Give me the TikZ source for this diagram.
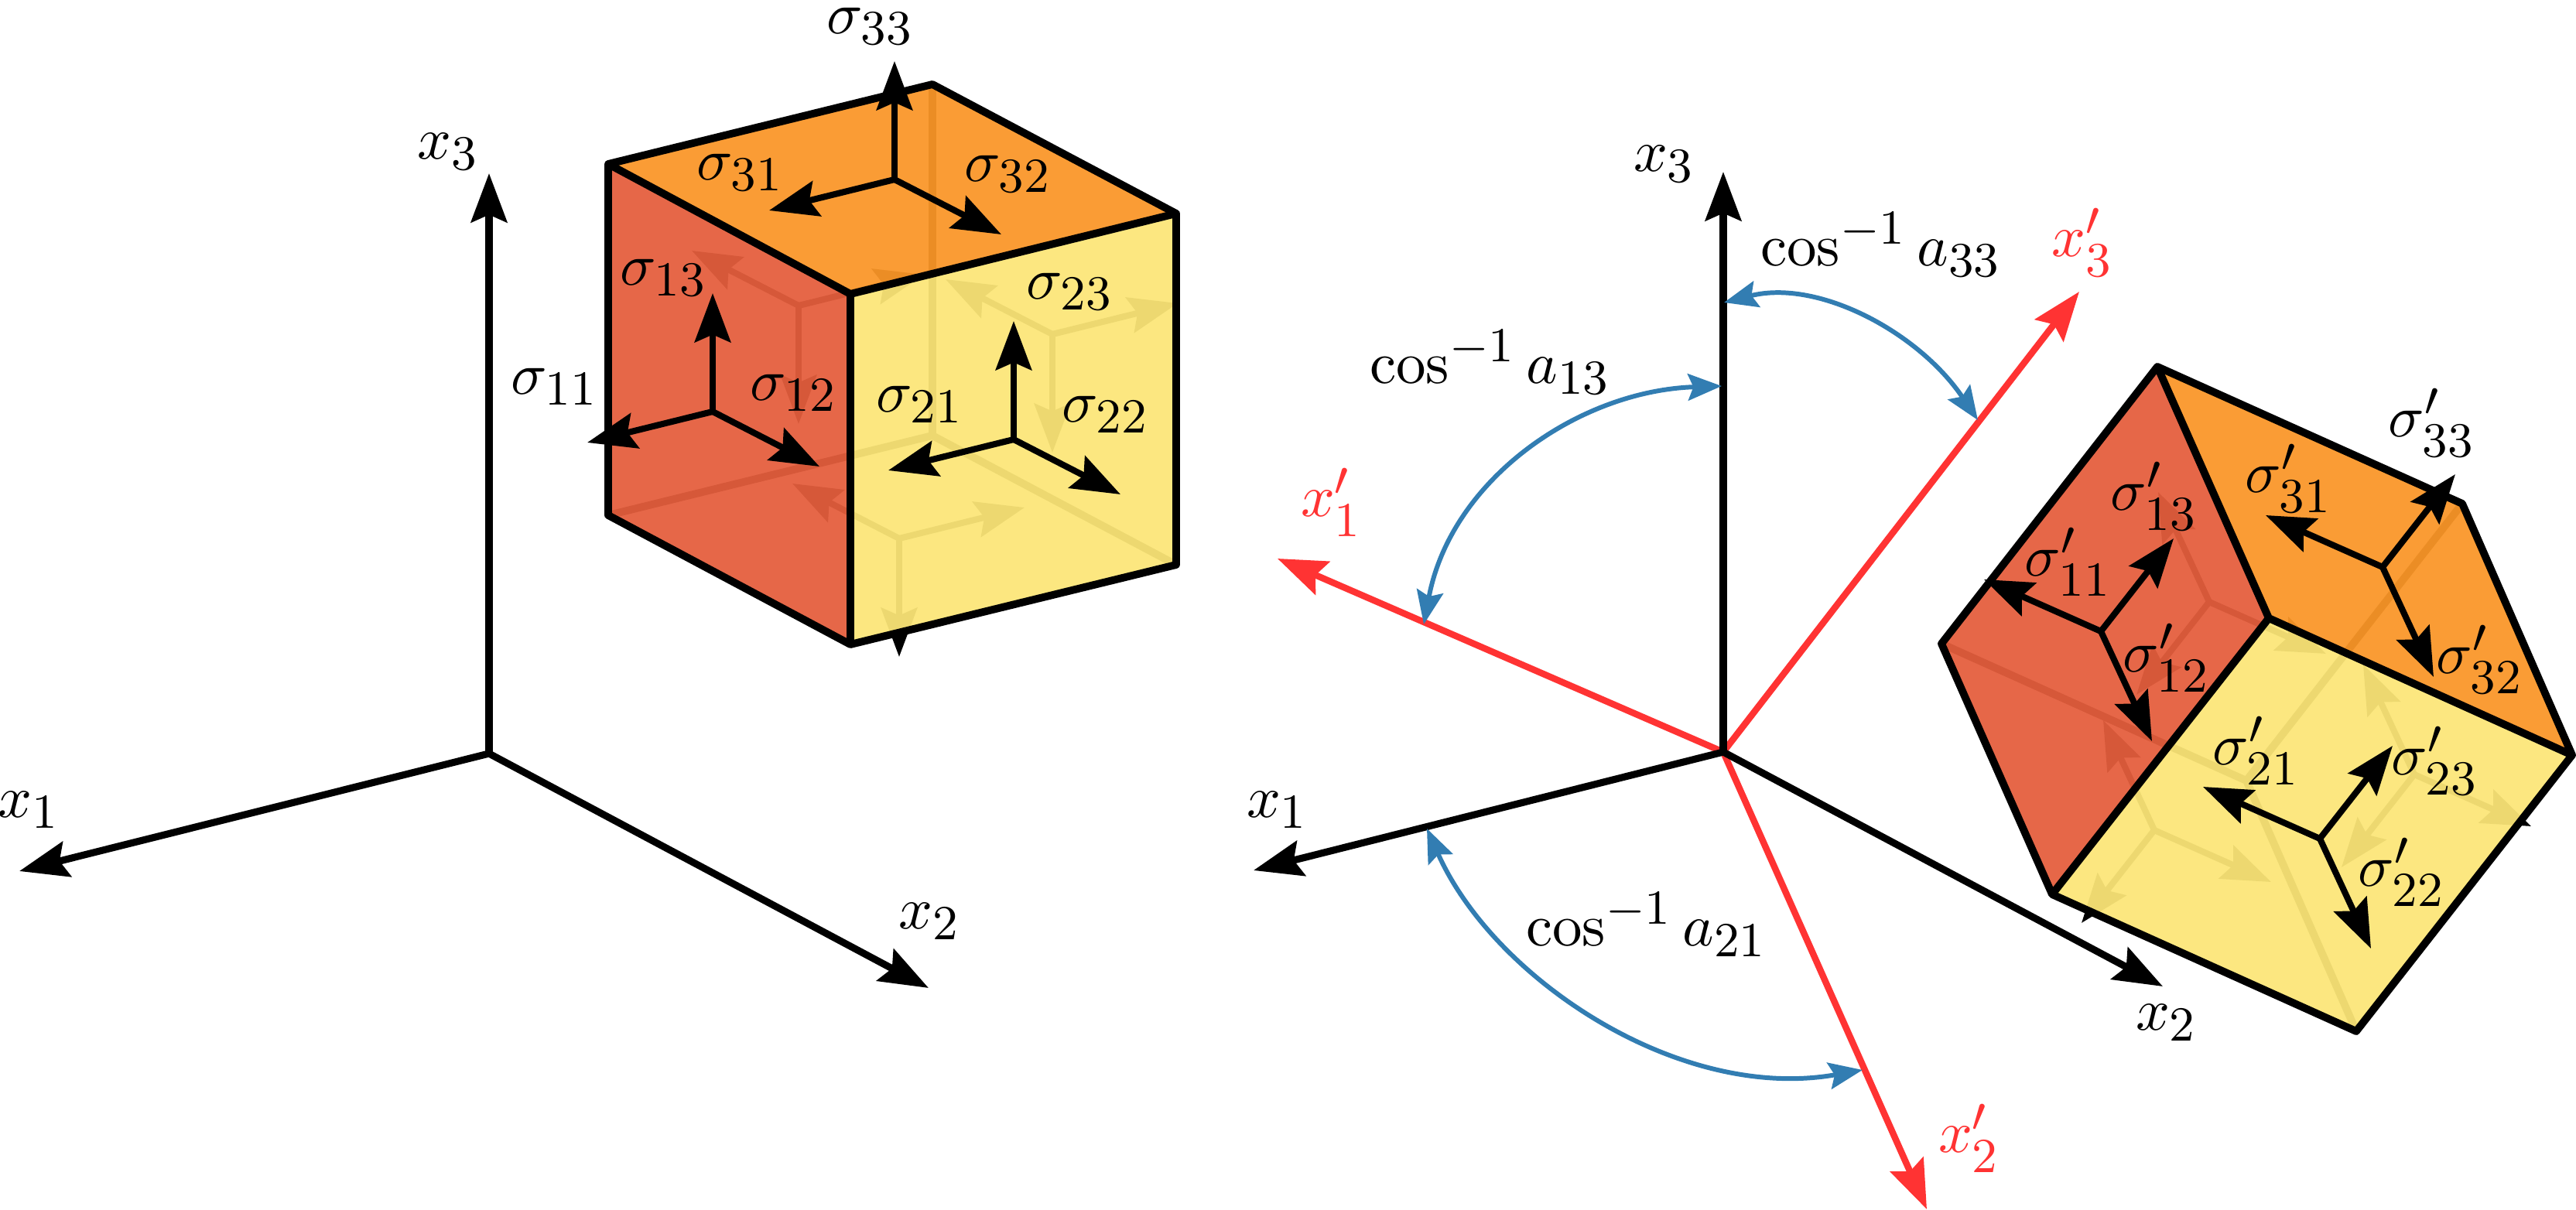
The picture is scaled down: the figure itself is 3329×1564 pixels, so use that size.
\documentclass[tikz,border=0pt]{standalone}
\usepackage{amsmath,amssymb}
\usetikzlibrary{arrows.meta}

\DeclareMathSizes{10.95}{10.95}{9}{7}

\definecolor{facered}{RGB}{228,94,61}
\definecolor{faceorange}{RGB}{250,150,40}
\definecolor{faceyellow}{RGB}{252,230,120}
\definecolor{axisred}{RGB}{255,51,51}
\definecolor{anglblue}{RGB}{50,125,178}

\tikzset{
    >={Stealth[length=9pt,width=6.6pt,inset=1.4pt]},
    every node/.style={font=\fontsize{10.95}{13}\selectfont,inner sep=0pt},
    axisline/.style={->,line width=1.3pt},
    redline/.style={->,line width=1.2pt,draw=axisred,color=axisred},
    angleline/.style={<->,line width=.85pt,draw=anglblue,color=anglblue,
        >={Stealth[length=6.2pt,width=4.9pt,inset=1pt]}},
    stressline/.style={->,line width=1.15pt},
    cubeedge/.style={line width=1.4pt,line join=round},
    cubeface/.style={fill opacity=.94,draw=none},
}

\begin{document}
\begin{tikzpicture}[x=.05mm,y=-.05mm]
    \useasboundingbox (0,0) rectangle (3329,1564);

    % Axes, left
    \coordinate (O) at (632,974);
    \draw[axisline] (O) -- (25,1126) coordinate (Oa);
    \draw[axisline] (O) -- (1200,1277) coordinate (Ob);
    \draw[axisline] (O) -- (632,224) coordinate (Oc);
    \node (lxa) at (38,1047) {$x_1$};
    \node (lxb) at (1202,1191) {$x_2$};
    \node (lxc) at (580,196) {$x_3$};

    % Cube, left
    \coordinate (A) at (1099,380);
    \coordinate (B) at (1520,276);
    \coordinate (C) at (1205,109);
    \coordinate (D) at (786,212);
    \coordinate (E) at (1099,833);
    \coordinate (F) at (1520,730);
    \coordinate (G) at (786,666);
    \coordinate (H) at (1205,563);

    \draw[cubeedge] (H) -- (C) (H) -- (F) (H) -- (G);
    \foreach \cx/\cy in {1032/395,1360/432,1162/696} {
        \draw[stressline] (\cx,\cy) -- ++(162,-40);
        \draw[stressline] (\cx,\cy) -- ++(-138,-71);
        \draw[stressline] (\cx,\cy) -- ++(0,153);
    }

    \fill[cubeface,facered] (D) -- (A) -- (E) -- (G) -- cycle;
    \fill[cubeface,faceorange] (D) -- (C) -- (B) -- (A) -- cycle;
    \fill[cubeface,faceyellow] (A) -- (B) -- (F) -- (E) -- cycle;
    \draw[cubeedge] (D) -- (C) -- (B) -- (F) -- (E) -- (G) -- cycle;
    \draw[cubeedge] (D) -- (A) -- (B) (A) -- (E);

    \foreach \cx/\cy in {921/532,1310/568,1156/232} {
        \draw[stressline] (\cx,\cy) -- ++(-162,40);
        \draw[stressline] (\cx,\cy) -- ++(138,71);
        \draw[stressline] (\cx,\cy) -- ++(0,-153);
    }

    \node (s11) at (717,500) {$\sigma_{11}$};
    \node (s12) at (1026,508) {$\sigma_{12}$};
    \node (s13) at (858,359) {$\sigma_{13}$};
    \node (s21) at (1189,523) {$\sigma_{21}$};
    \node (s22) at (1429,536) {$\sigma_{22}$};
    \node (s23) at (1383,377) {$\sigma_{23}$};
    \node (s31) at (957,223) {$\sigma_{31}$};
    \node (s32) at (1303,225) {$\sigma_{32}$};
    \node (s33) at (1125,34) {$\sigma_{33}$};

    % Axes, right
    \coordinate (P) at (2227,972);
    \draw[redline] (P) -- (1651,722) coordinate (Pd);
    \draw[redline] (P) -- (2490,1563) coordinate (Pe);
    \draw[redline] (P) -- (2687,377) coordinate (Pf);
    \draw[axisline] (P) -- (1620,1125) coordinate (Pa);
    \draw[axisline] (P) -- (2795,1275) coordinate (Pb);
    \draw[axisline] (P) -- (2227,222) coordinate (Pc);
    \node (rxa) at (1651,1047) {$x_1$};
    \node (rxb) at (2800,1322) {$x_2$};
    \node (rxc) at (2151,212) {$x_3$};
    \node[axisred] (rxd) at (1721,649) {$x'_1$};
    \node[axisred] (rxe) at (2545,1471) {$x'_2$};
    \node[axisred] (rxf) at (2691,313) {$x'_3$};

    % Angles
    \draw[angleline] (2228,391) .. controls (2350,360) and (2480,430) .. (2556,543);
    \draw[angleline] (2225,499) .. controls (2040,505) and (1875,620) .. (1840,807);
    \draw[angleline] (1844,1071) .. controls (1930,1265) and (2170,1425) .. (2407,1383);
    \node (ca) at (2431,316) {$\cos^{-1}a_{33}$};
    \node (cb) at (1926,468) {$\cos^{-1}a_{13}$};
    \node (cc) at (2128,1195) {$\cos^{-1}a_{21}$};

    % Cube, right
    \coordinate (a) at (2932,799);
    \coordinate (b) at (2788,474);
    \coordinate (c) at (3182,651);
    \coordinate (d) at (3324,976);
    \coordinate (e) at (3045,1333);
    \coordinate (f) at (2652,1156);
    \coordinate (g) at (2509,832);
    \coordinate (h) at (2903,1009);

    \draw[cubeedge] (h) -- (c) (h) -- (e) (h) -- (g);
    \foreach \cx/\cy in {2855/778,3120/1001,2784/1073} {
        \draw[stressline] (\cx,\cy) -- ++(151,67);
        \draw[stressline] (\cx,\cy) -- ++(-94,120);
        \draw[stressline] (\cx,\cy) -- ++(-66,-142);
    }

    \fill[cubeface,facered] (b) -- (a) -- (f) -- (g) -- cycle;
    \fill[cubeface,faceorange] (b) -- (c) -- (d) -- (a) -- cycle;
    \fill[cubeface,faceyellow] (a) -- (d) -- (e) -- (f) -- cycle;
    \draw[cubeedge] (b) -- (c) -- (d) -- (e) -- (f) -- (g) -- cycle;
    \draw[cubeedge] (b) -- (a) -- (d) (a) -- (f);

    \foreach \cx/\cy in {2715/816,3079/733,2998/1084} {
        \draw[stressline] (\cx,\cy) -- ++(-151,-67);
        \draw[stressline] (\cx,\cy) -- ++(94,-120);
        \draw[stressline] (\cx,\cy) -- ++(66,142);
    }

    \node (t11) at (2673,726) {$\sigma'_{11}$};
    \node (t12) at (2800,850) {$\sigma'_{12}$};
    \node (t13) at (2784,641) {$\sigma'_{13}$};
    \node (t21) at (2916,970) {$\sigma'_{21}$};
    \node (t22) at (3104,1127) {$\sigma'_{22}$};
    \node (t23) at (3147,983) {$\sigma'_{23}$};
    \node (t31) at (2958,618) {$\sigma'_{31}$};
    \node (t32) at (3205,852) {$\sigma'_{32}$};
    \node (t33) at (3143,546) {$\sigma'_{33}$};
\end{tikzpicture}
\end{document}
